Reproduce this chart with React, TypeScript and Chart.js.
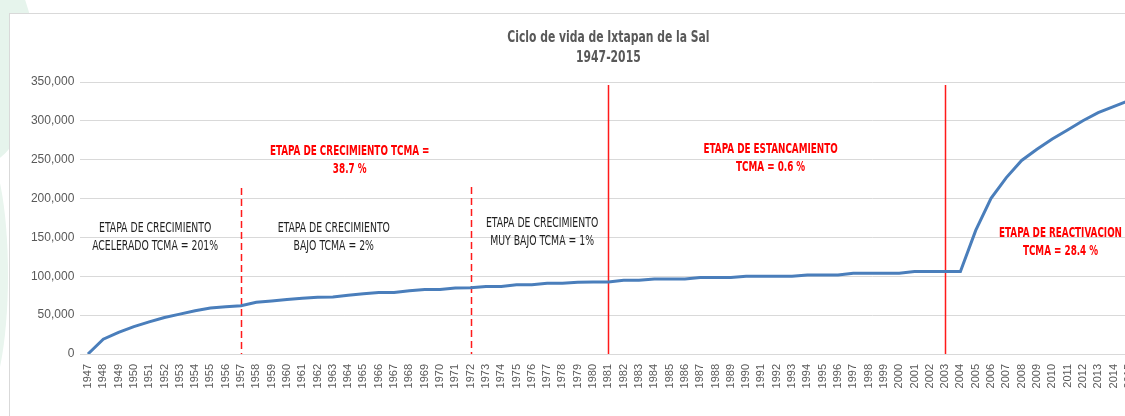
import React, { useEffect, useRef } from 'react';
import { Chart, registerables } from 'chart.js';

Chart.register(...registerables);

// ---------- data ----------
const years = [
  '1947', '1948', '1949', '1950', '1951', '1952', '1953', '1954', '1955', '1956',
  '1957', '1958', '1959', '1960', '1961', '1962', '1963', '1964', '1965', '1966',
  '1967', '1968', '1969', '1970', '1971', '1972', '1973', '1974', '1975', '1976',
  '1977', '1978', '1979', '1980', '1981', '1982', '1983', '1984', '1985', '1986',
  '1987', '1988', '1989', '1990', '1991', '1992', '1993', '1994', '1995', '1996',
  '1997', '1998', '1999', '2000', '2001', '2002', '2003', '2004', '2005', '2006',
  '2007', '2008', '2009', '2010', '2011', '2012', '2013', '2014', '2015',
];

const population = [
  0, 19100, 27800, 35200, 41300, 47000, 51300, 55700, 59100, 60900,
  62200, 66500, 68300, 70000, 71700, 73000, 73500, 75700, 77400, 79100,
  79100, 81300, 83000, 83000, 84800, 85200, 87000, 87000, 89100, 89100,
  90900, 90900, 92200, 92600, 92600, 94800, 94800, 96500, 96500, 96500,
  98300, 98300, 98300, 100000, 100000, 100000, 100000, 101700, 101700, 101700,
  103900, 103900, 103900, 103900, 106100, 106100, 106100, 106100, 159000, 200300,
  227000, 249000, 263400, 276700, 288200, 300200, 310500, 318200, 326000,
];

const yMin = 0;
const yMax = 350000;
const yStep = 50000;

const titleLines = ['Ciclo de vida de Ixtapan de la Sal', '1947-2015'];

// stage separators: category + value where the line starts
const stageLines = [
  { year: '1957', fromValue: 213600, dashed: true },
  { year: '1972', fromValue: 215000, dashed: true },
  { year: '1981', fromValue: 346000, dashed: false },
  { year: '2003', fromValue: 346000, dashed: false },
];

// stage notes: fractional category index + value of first line centre
const stageNotes = [
  { at: 4.39, value: 162100, lines: ['ETAPA DE CRECIMIENTO', 'ACELERADO TCMA = 201%'], red: false },
  { at: 16.06, value: 162100, lines: ['ETAPA DE CRECIMIENTO', 'BAJO TCMA = 2%'], red: false },
  { at: 29.67, value: 168600, lines: ['ETAPA DE CRECIMIENTO', 'MUY BAJO TCMA = 1%'], red: false },
  { at: 17.1, value: 261200, lines: ['ETAPA DE CRECIMIENTO TCMA =', '38.7 %'], red: true },
  { at: 44.6, value: 263800, lines: ['ETAPA DE ESTANCAMIENTO', 'TCMA = 0.6 %'], red: true },
  { at: 63.54, value: 155700, lines: ['ETAPA DE REACTIVACION', 'TCMA = 28.4 %'], red: true },
];

const NARROW = '"Liberation Sans Narrow", "DejaVu Sans Condensed", "Liberation Sans", sans-serif';
const SANS = '"Liberation Sans", Arial, sans-serif';

function drawSqueezed(ctx: CanvasRenderingContext2D, text: string, x: number, y: number, sx: number) {
  ctx.save();
  ctx.translate(x, y);
  ctx.scale(sx, 1);
  ctx.fillText(text, 0, 0);
  ctx.restore();
}

const stagePlugin = {
  id: 'stagePlugin',
  beforeDatasetsDraw(chart: any) {
    const { ctx, scales, chartArea } = chart;
    const x = scales.x;
    const y = scales.y;
    ctx.save();
    ctx.strokeStyle = '#ff1a1a';
    ctx.lineWidth = 1.5;
    for (const l of stageLines) {
      const px = Math.round(x.getPixelForValue(years.indexOf(l.year))) + 0.5;
      ctx.setLineDash(l.dashed ? [7, 4] : []);
      ctx.beginPath();
      ctx.moveTo(px, y.getPixelForValue(l.fromValue));
      ctx.lineTo(px, chartArea.bottom);
      ctx.stroke();
    }
    ctx.restore();
  },
  afterDatasetsDraw(chart: any) {
    const { ctx, scales, chartArea } = chart;
    const x = scales.x;
    const y = scales.y;
    ctx.save();
    ctx.textAlign = 'center';
    ctx.textBaseline = 'middle';
    // title
    ctx.fillStyle = '#595959';
    ctx.font = 'bold 15px ' + NARROW;
    const cx = (chartArea.left + chartArea.right) / 2;
    titleLines.forEach((t, i) => drawSqueezed(ctx, t, cx, 38 + i * 20, 0.8));
    // notes
    for (const n of stageNotes) {
      const px = x.getPixelForValue(n.at);
      const py = y.getPixelForValue(n.value);
      ctx.fillStyle = n.red ? '#ff0000' : '#1f1f1f';
      ctx.font = (n.red ? 'bold ' : '') + '14px ' + NARROW;
      n.lines.forEach((t, i) => drawSqueezed(ctx, t, px, py + i * 18, n.red ? 0.7 : 0.74));
    }
    ctx.restore();
  },
};

export default function App() {
  const ref = useRef<HTMLCanvasElement | null>(null);

  useEffect(() => {
    if (!ref.current) return;
    const chart = new Chart(ref.current, {
      type: 'line',
      data: {
        labels: years,
        datasets: [
          {
            data: population,
            borderColor: '#4a7ebb',
            backgroundColor: '#4a7ebb',
            borderWidth: 3,
            pointRadius: 0,
            tension: 0,
            fill: false,
          },
        ],
      },
      options: {
        responsive: false,
        animation: false,
        layout: { padding: { left: 0, right: 2.6, top: 82, bottom: 0 } },
        plugins: {
          legend: { display: false },
          tooltip: { enabled: false },
          title: { display: false },
        },
        scales: {
          x: {
            type: 'category',
            offset: true,
            grid: { display: false, drawTicks: false },
            border: { display: true, color: '#d9d9d9', width: 1 },
            ticks: {
              autoSkip: false,
              maxRotation: 90,
              minRotation: 90,
              color: '#595959',
              padding: 10,
              font: { family: SANS, size: 11 },
            },
            afterFit: (s: any) => {
              s.height = 62;
            },
          },
          y: {
            min: yMin,
            max: yMax,
            ticks: {
              stepSize: yStep,
              color: '#595959',
              padding: 6,
              font: { family: SANS, size: 12 },
              callback: (v: any) => Number(v).toLocaleString('en-US'),
            },
            grid: { color: '#d9d9d9', lineWidth: 1, drawTicks: false },
            border: { display: false },
            afterFit: (s: any) => {
              s.width = 80.3;
            },
          },
        },
      },
      plugins: [stagePlugin],
    } as any);
    return () => chart.destroy();
  }, []);

  return (
    <div
      style={{
        position: 'fixed',
        left: 0,
        top: 0,
        width: 1125,
        height: 416,
        overflow: 'hidden',
        background: '#ffffff',
      }}
    >
      <div style={{ position: 'absolute', left: -75, top: -45, width: 110, height: 210, borderRadius: '50%', background: '#e6f4ec' }} />
      <div style={{ position: 'absolute', left: -42, top: 150, width: 50, height: 250, borderRadius: '50%', background: '#e9f5ee' }} />
      <div
        style={{
          position: 'absolute',
          left: 9,
          top: 13,
          width: 1200,
          height: 500,
          border: '1px solid #d9d9d9',
          background: '#ffffff',
        }}
      />
      <canvas
        ref={ref}
        width={1152}
        height={416}
        style={{ position: 'absolute', left: 0, top: 0, width: 1152, height: 416, display: 'block' }}
      />
    </div>
  );
}
